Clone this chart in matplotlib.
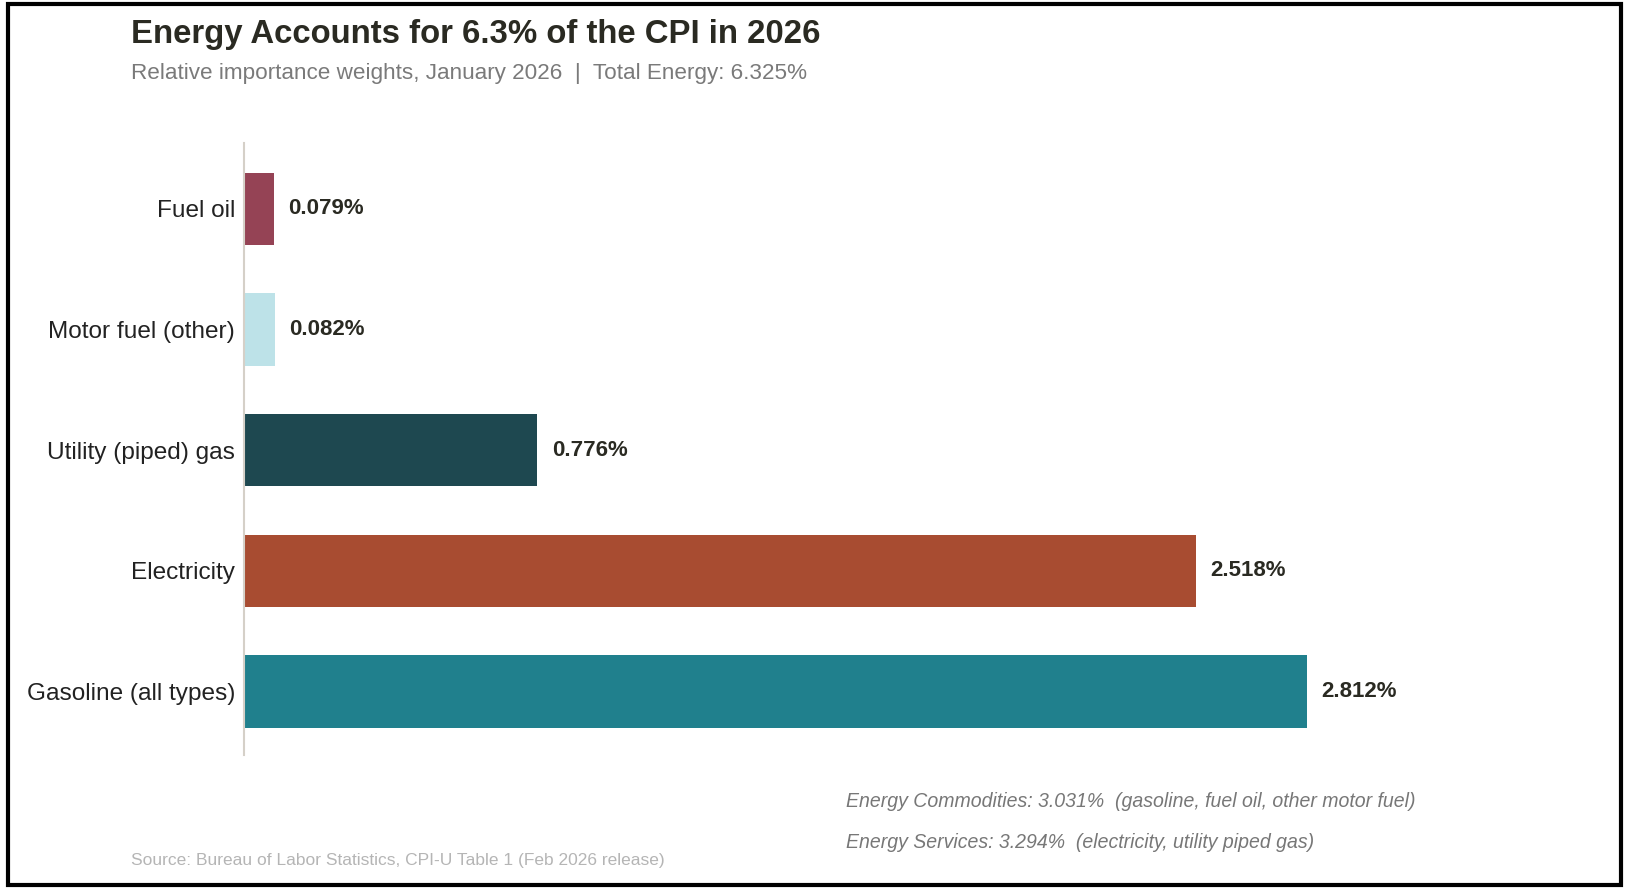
import matplotlib.pyplot as plt
from matplotlib.patches import Rectangle

plt.rcParams['font.family'] = ['Liberation Sans', 'DejaVu Sans']

# data (bottom to top)
categories = ['Gasoline (all types)', 'Electricity', 'Utility (piped) gas',
              'Motor fuel (other)', 'Fuel oil']
weights = [2.812, 2.518, 0.776, 0.082, 0.079]
bar_colors = ['#20808d', '#a84c31', '#1e4850', '#bde2e8', '#954355']

title = 'Energy Accounts for 6.3% of the CPI in 2026'
subtitle = 'Relative importance weights, January 2026  |  Total Energy: 6.325%'
note_commodities = 'Energy Commodities: 3.031%  (gasoline, fuel oil, other motor fuel)'
note_services = 'Energy Services: 3.294%  (electricity, utility piped gas)'
source = 'Source: Bureau of Labor Statistics, CPI-U Table 1 (Feb 2026 release)'

fig = plt.figure(figsize=(16.3, 8.91), dpi=100)
ax = fig.add_axes([0.1497, 0.1526, 0.8117, 0.6869])

ypos = list(range(len(categories)))
ax.barh(ypos, weights, height=0.6, color=bar_colors)

for y, w in zip(ypos, weights):
    ax.annotate(f'{w:.3f}%', (w, y), xytext=(10.5, 0), textcoords='offset points',
                ha='left', va='center', fontsize=16, fontweight='bold',
                color='#2a2a22')

ax.set_xlim(0, 3.5)
ax.set_ylim(-0.527, 4.547)
ax.set_yticks(ypos)
ax.set_yticklabels(categories, fontsize=17.6, color='#222222')
ax.tick_params(axis='y', length=0, pad=6.5)
ax.set_xticks([])
for s in ['top', 'right', 'bottom']:
    ax.spines[s].set_visible(False)
ax.spines['left'].set_color('#d5d0c8')
ax.spines['left'].set_linewidth(1.5)

# titles and notes
fig.text(0.0804, 0.961, title, fontsize=23.7, fontweight='bold', color='#2a2a22',
         ha='left', va='center')
fig.text(0.0804, 0.917, subtitle, fontsize=16.2, color='#7a7a7a',
         ha='left', va='center')
fig.text(0.519, 0.101, note_commodities, fontsize=14.05, style='italic',
         color='#777777', ha='left', va='center')
fig.text(0.519, 0.0539, note_services, fontsize=14.05, style='italic',
         color='#777777', ha='left', va='center')
fig.text(0.0804, 0.0337, source, fontsize=12.5, color='#b5b5b5',
         ha='left', va='center')

# border
fig.patches.append(Rectangle((0.0049, 0.0067), 0.9896, 0.9888, transform=fig.transFigure,
                             fill=False, edgecolor='black', linewidth=3))

fig.savefig('out.png', dpi=100)
